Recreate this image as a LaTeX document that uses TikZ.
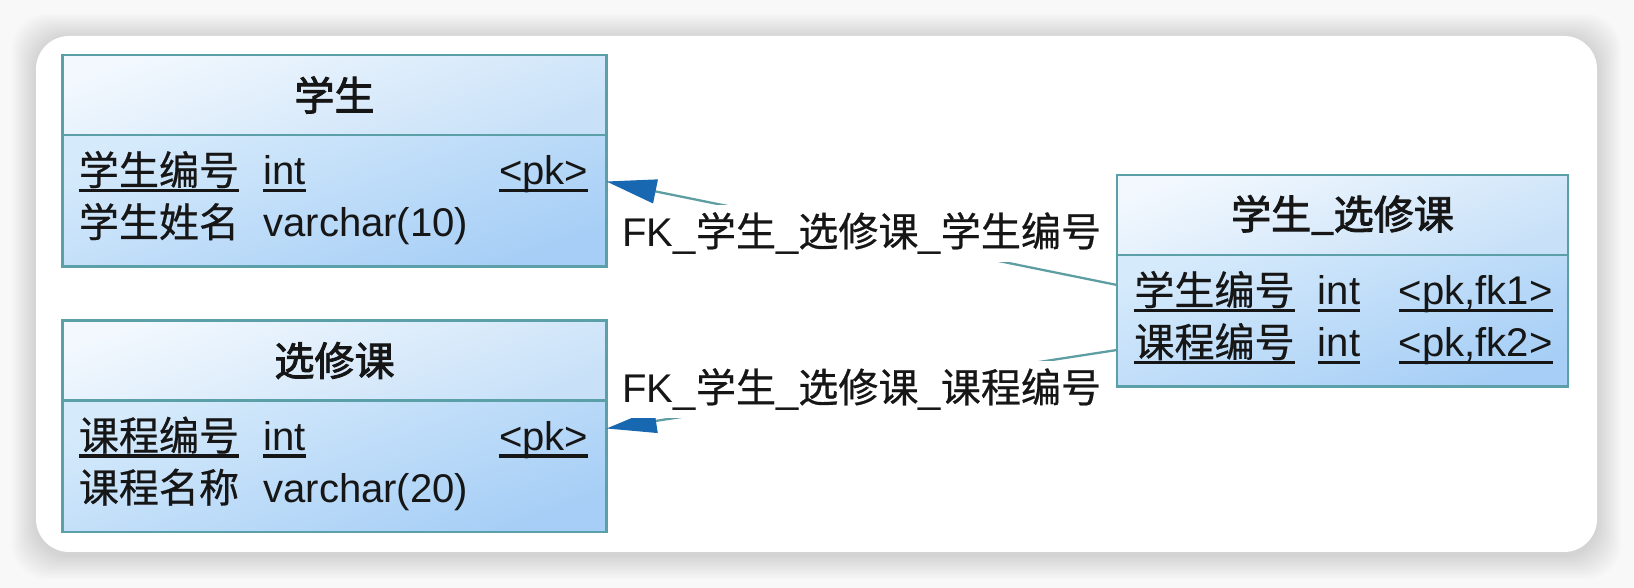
\documentclass[tikz,border=0pt]{standalone}
\usepackage{fontspec}
\setmainfont{Liberation Sans}
\newfontfamily\cjk[FakeBold=0.6]{Noto Sans CJK SC}
\newfontfamily\cjktitle[FakeBold=2.2]{Noto Sans CJK SC}
\definecolor{BackGray}{HTML}{F8F8F8}
\definecolor{TableLine}{HTML}{5B9FA8}
\definecolor{HeadTop}{HTML}{F2F8FE}
\definecolor{HeadBot}{HTML}{C8E1F8}
\definecolor{BodyTop}{HTML}{D5EAFB}
\definecolor{BodyBot}{HTML}{A6CEF6}
\definecolor{LinkTeal}{HTML}{5E9EA3}
\definecolor{TipBlue}{HTML}{1768B0}
\definecolor{TextBlack}{HTML}{161616}
\usetikzlibrary{
  arrows.meta,
  positioning,
  calc
}
% underline for key columns
\newcommand{\keyline}[1]{\setbox0\hbox{#1}\rlap{\vrule height -2pt depth 4pt width \wd0}\box0}

\begin{document}
\begin{tikzpicture}[
  tabhead/.style={
    rectangle, draw=TableLine, line width=1.2pt, outer sep=0pt,
    top color=HeadTop, bottom color=HeadBot, shading angle=20,
    minimum height=1.6cm,
    font=\fontsize{22.8}{27}\selectfont\cjktitle, text=TextBlack
  },
  tabbody/.style={
    rectangle, draw=TableLine, line width=1.2pt, outer sep=0pt,
    top color=BodyTop, bottom color=BodyBot, shading angle=20,
    minimum height=2.63cm
  },
  fieldtxt/.style={
    inner sep=0pt, anchor=base west,
    font=\fontsize{22.8}{27}\selectfont, text=TextBlack
  },
  fkline/.style={
    -{Triangle[length=1cm, width=0.48cm, color=TipBlue]},
    line width=1.3pt, LinkTeal
  },
  fklabel/.style={
    fill=white, inner sep=0.15cm,
    font=\fontsize{22.8}{27}\selectfont, text=TextBlack
  }
]
  \useasboundingbox (0,0) rectangle (32.68,11.76);
  \fill[BackGray] (0,0) rectangle (32.68,11.76);

  % card with soft shadow
  \foreach \s in {1,...,12}
    \fill[black, fill opacity=0.011, rounded corners=0.7cm]
      ({0.72-0.04*\s},{0.66-0.04*\s}) rectangle ({31.94+0.04*\s},{11.0+0.04*\s});
  \fill[white, rounded corners=0.66cm] (0.72,0.72) rectangle (31.94,11.04);

  % table xuesheng
  \node[tabhead, minimum width=10.88cm] (xshead) at (6.69,9.86) {学生};
  \node[tabbody, minimum width=10.88cm, below=0pt of xshead] (xsbody) {};
  \node[fieldtxt] (xsid) at ($(xsbody.north west)+(0.32,-1.0)$) {\keyline{\cjk 学生编号}};
  \node[fieldtxt] (xsidtype) at ($(xsbody.north west)+(4.01,-1.0)$) {\keyline{int}};
  \node[fieldtxt, anchor=base east] (xsidkey) at ($(xsbody.north east)+(-0.36,-1.0)$) {\keyline{<pk>}};
  \node[fieldtxt] (xsname) at ($(xsbody.north west)+(0.32,-2.04)$) {\cjk 学生姓名};
  \node[fieldtxt] (xsnametype) at ($(xsbody.north west)+(4.01,-2.04)$) {varchar(10)};

  % table xuanxiuke
  \node[tabhead, minimum width=10.88cm, below=1.08cm of xsbody] (xkhead) {选修课};
  \node[tabbody, minimum width=10.88cm, below=0pt of xkhead] (xkbody) {};
  \node[fieldtxt] (xkid) at ($(xkbody.north west)+(0.32,-1.0)$) {\keyline{\cjk 课程编号}};
  \node[fieldtxt] (xkidtype) at ($(xkbody.north west)+(4.01,-1.0)$) {\keyline{int}};
  \node[fieldtxt, anchor=base east] (xkidkey) at ($(xkbody.north east)+(-0.36,-1.0)$) {\keyline{<pk>}};
  \node[fieldtxt] (xkname) at ($(xkbody.north west)+(0.32,-2.04)$) {\cjk 课程名称};
  \node[fieldtxt] (xknametype) at ($(xkbody.north west)+(4.01,-2.04)$) {varchar(20)};

  % link table
  \node[tabhead, minimum width=9.02cm] (xxkhead) at (26.85,7.46) {学生\_选修课};
  \node[tabbody, minimum width=9.02cm, below=0pt of xxkhead] (xxkbody) {};
  \node[fieldtxt] (xxksid) at ($(xxkbody.north west)+(0.34,-1.0)$) {\keyline{\cjk 学生编号}};
  \node[fieldtxt] (xxksidtype) at ($(xxkbody.north west)+(4.01,-1.0)$) {\keyline{int}};
  \node[fieldtxt, anchor=base east] (xxksidkey) at ($(xxkbody.north east)+(-0.3,-1.0)$) {\keyline{<pk,fk1>}};
  \node[fieldtxt] (xxkcid) at ($(xxkbody.north west)+(0.34,-2.04)$) {\keyline{\cjk 课程编号}};
  \node[fieldtxt] (xxkcidtype) at ($(xxkbody.north west)+(4.01,-2.04)$) {\keyline{int}};
  \node[fieldtxt, anchor=base east] (xxkcidkey) at ($(xxkbody.north east)+(-0.3,-2.04)$) {\keyline{<pk,fk2>}};

  % foreign keys
  \draw[fkline] ($(xxkbody.north west)+(0,-0.6)$) --
    node[fklabel] (fk1) {FK\_{\cjk 学生}\_{\cjk 选修课}\_{\cjk 学生编号}}
    ($(xsbody.north east)+(0,-0.93)$);
  \draw[fkline] ($(xxkbody.north west)+(0,-1.9)$) --
    node[fklabel] (fk2) {FK\_{\cjk 学生}\_{\cjk 选修课}\_{\cjk 课程编号}}
    ($(xkbody.north east)+(0,-0.56)$);
\end{tikzpicture}
\end{document}
